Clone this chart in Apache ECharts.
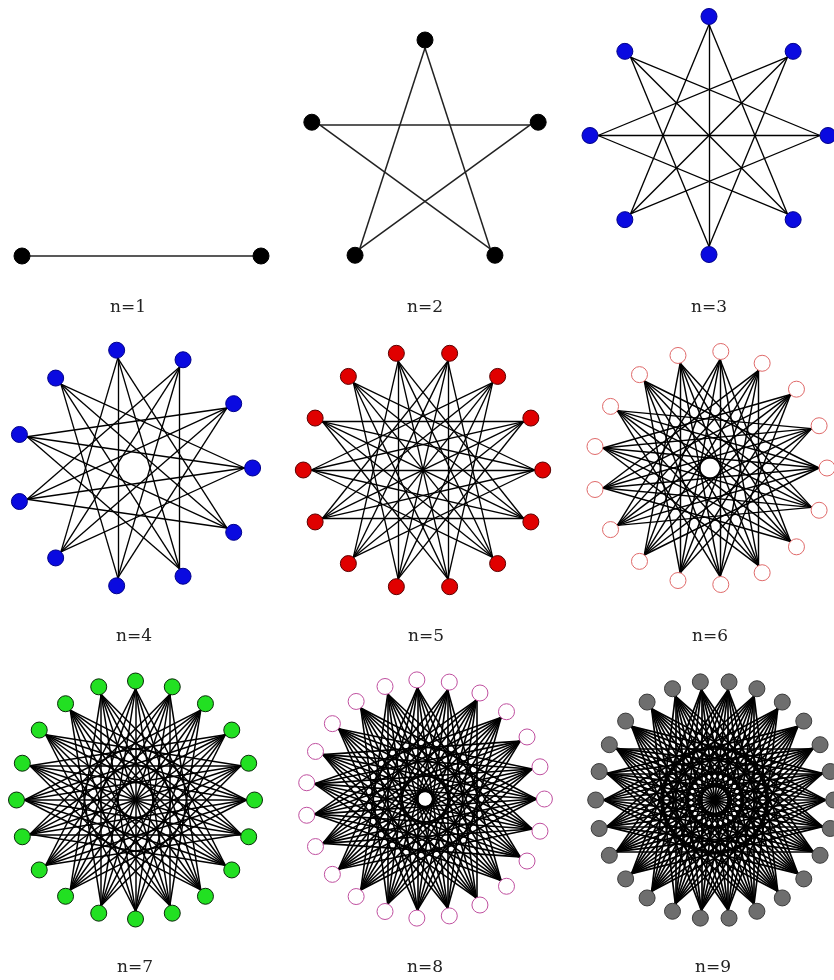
<!DOCTYPE html>
<html>
<head>
<meta charset="utf-8">
<script src="https://cdn.jsdelivr.net/npm/echarts@6/dist/echarts.min.js"></script>
<style>
  html, body { margin: 0; padding: 0; background: #ffffff; }
  #chart { width: 834px; height: 980px; }
</style>
</head>
<body>
<div id="chart"></div>
<script>
// Circular complete graphs K(3n-1)/n: vertices 0..p-1 sit on a circle and
// two vertices are joined when their cyclic distance is at least n.
const panelN = [1, 2, 3, 4, 5, 6, 7, 8, 9];
const vertexCounts = [2, 5, 8, 11, 14, 17, 20, 23, 26];
const minGaps = [1, 2, 3, 4, 5, 6, 7, 8, 9];
const panelLabels = ['n=1', 'n=2', 'n=3', 'n=4', 'n=5', 'n=6', 'n=7', 'n=8', 'n=9'];

// Vertex styling per panel
const nodeFill = ['#000000', '#000000', '#0a0ae0', '#0a0ae0', '#e00000', '#ffffff', '#22e022', '#ffffff', '#6e6e6e'];
const nodeBorder = ['#000000', '#000000', '#00008a', '#00008a', '#5a0000', '#e06a6a', '#0a2a0a', '#c050a0', '#3c3c3c'];
const edgeColor = ['#222222', '#222222', '#000000', '#000000', '#000000', '#000000', '#000000', '#000000', '#000000'];
const edgeWidth = [1.5, 1.5, 1.35, 1.35, 1.35, 1.45, 1.5, 1.6, 1.7];

// Panel geometry (pixels)
const centers = [[141.5, 256], [425, 159], [709, 135.5], [133.6, 468], [423, 470], [710, 468], [135.5, 800], [425, 799], [714.7, 800]];
const ringRadius = [119.5, 119, 119, 119, 119.7, 117, 119, 119.4, 119];
const startAngles = [0, 90, 0, 0, 0, 0, 0, 0, 0];
const labelPos = [[128, 308], [425, 308], [709, 308], [134, 637], [426, 637], [710, 637], [135, 968], [425, 968], [713, 968]];
const dotSize = 16;
const dotInset = 8; // edges stop at the inner rim of each dot

function edgesFor(p, gap) {
  const out = [];
  for (let i = 0; i < p; i++) {
    for (let j = i + 1; j < p; j++) {
      const d = j - i;
      if (d >= gap && d <= p - gap) out.push([i, j]);
    }
  }
  return out;
}

const polar = [], angleAxis = [], radiusAxis = [], series = [];
panelN.forEach(function (n, i) {
  const p = vertexCounts[i];
  const ids = Array.from({ length: p }, function (_, k) { return k; });
  const innerR = (ringRadius[i] - dotInset) / ringRadius[i];
  polar.push({ center: centers[i], radius: ringRadius[i] });
  angleAxis.push({
    polarIndex: i, type: 'value', min: 0, max: p,
    startAngle: startAngles[i], clockwise: false, show: false
  });
  radiusAxis.push({ polarIndex: i, type: 'value', min: 0, max: 1, show: false });

  series.push({
    type: 'graph',
    coordinateSystem: 'polar',
    polarIndex: i,
    symbolSize: 0,
    silent: true,
    label: { show: false },
    data: ids.map(function (k) { return { name: 'v' + k, value: [innerR, k] }; }),
    links: edgesFor(p, minGaps[i]).map(function (e) {
      return { source: 'v' + e[0], target: 'v' + e[1] };
    }),
    lineStyle: { color: edgeColor[i], width: edgeWidth[i], opacity: 1, curveness: 0 },
    z: 2
  });

  series.push({
    type: 'scatter',
    coordinateSystem: 'polar',
    polarIndex: i,
    symbol: 'circle',
    symbolSize: dotSize,
    silent: true,
    data: ids.map(function (k) { return [1, k]; }),
    itemStyle: { color: nodeFill[i], borderColor: nodeBorder[i], borderWidth: 1, opacity: 1 },
    z: 3
  });
});

const chart = echarts.init(document.getElementById('chart'), null, { renderer: 'canvas' });
chart.setOption({
  animation: false,
  backgroundColor: '#ffffff',
  polar: polar,
  angleAxis: angleAxis,
  radiusAxis: radiusAxis,
  series: series,
  graphic: panelLabels.map(function (t, i) {
    return {
      type: 'text',
      x: labelPos[i][0],
      y: labelPos[i][1],
      silent: true,
      style: {
        text: t,
        align: 'center',
        verticalAlign: 'middle',
        fontFamily: 'DejaVu Serif',
        fontSize: 17,
        fill: '#222222'
      }
    };
  })
});
</script>
</body>
</html>
